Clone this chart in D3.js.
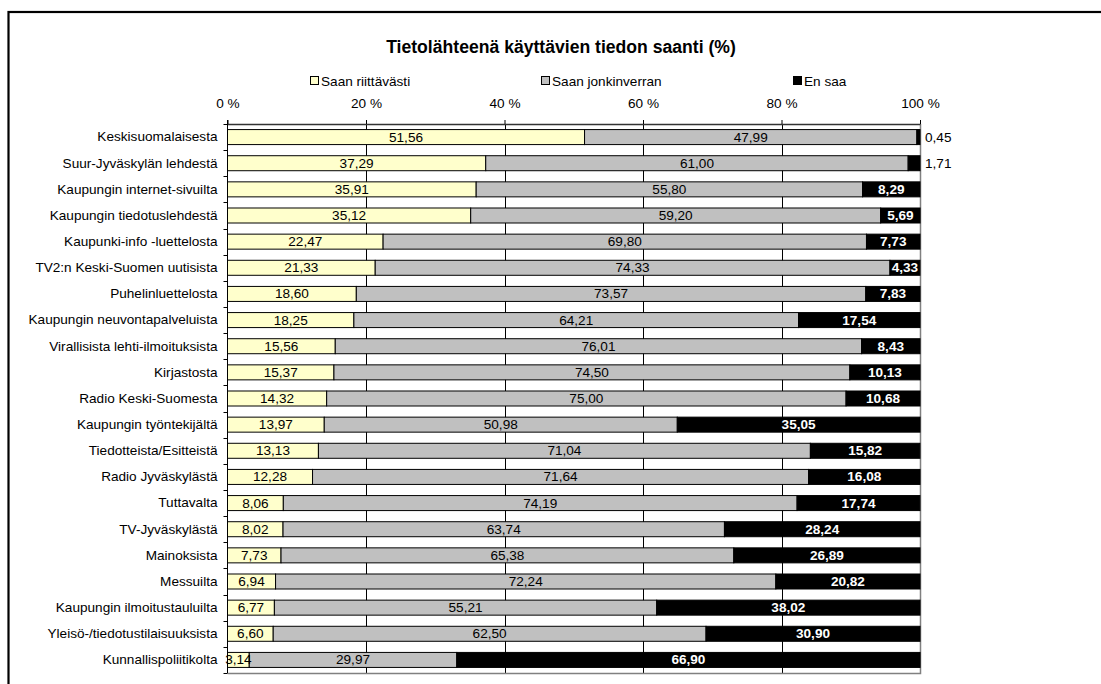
<!DOCTYPE html>
<html>
<head>
<meta charset="utf-8">
<script src="https://cdn.jsdelivr.net/npm/d3@7"></script>
<style>
  body { margin: 0; background: #fff; }
  svg { display: block; font-family: Arial, 'Liberation Sans', sans-serif; }
</style>
</head>
<body>
<svg id="chart"></svg>
<script>
// data
const categories = [
  "Keskisuomalaisesta", "Suur-Jyväskylän lehdestä", "Kaupungin internet-sivuilta",
  "Kaupungin tiedotuslehdestä", "Kaupunki-info -luettelosta", "TV2:n Keski-Suomen uutisista",
  "Puhelinluettelosta", "Kaupungin neuvontapalveluista", "Virallisista lehti-ilmoituksista",
  "Kirjastosta", "Radio Keski-Suomesta", "Kaupungin työntekijältä", "Tiedotteista/Esitteistä",
  "Radio Jyväskylästä", "Tuttavalta", "TV-Jyväskylästä", "Mainoksista", "Messuilta",
  "Kaupungin ilmoitustauluilta", "Yleisö-/tiedotustilaisuuksista", "Kunnallispoliitikolta"
];
const seriesNames = ["Saan riittävästi", "Saan jonkinverran", "En saa"];
const enough = [51.56, 37.29, 35.91, 35.12, 22.47, 21.33, 18.60, 18.25, 15.56, 15.37, 14.32,
  13.97, 13.13, 12.28, 8.06, 8.02, 7.73, 6.94, 6.77, 6.60, 3.14];
const some = [47.99, 61.00, 55.80, 59.20, 69.80, 74.33, 73.57, 64.21, 76.01, 74.50, 75.00,
  50.98, 71.04, 71.64, 74.19, 63.74, 65.38, 72.24, 55.21, 62.50, 29.97];
const none = [0.45, 1.71, 8.29, 5.69, 7.73, 4.33, 7.83, 17.54, 8.43, 10.13, 10.68,
  35.05, 15.82, 16.08, 17.74, 28.24, 26.89, 20.82, 38.02, 30.90, 66.90];
const xTicks = [0, 20, 40, 60, 80, 100];

const width = 1101, height = 684;
const colors = ["#FFFFCC", "#C0C0C0", "#000000"];
const fmt = v => d3.format(".2f")(v).replace(".", ",");
const fs = 13.6;

const svg = d3.select("#chart").attr("width", width).attr("height", height);

// outer frame (runs off the right and bottom edges)
svg.append("rect")
  .attr("x", 8.5).attr("y", 12)
  .attr("width", 1200).attr("height", 800)
  .attr("fill", "none").attr("stroke", "#000").attr("stroke-width", 2.2);

svg.append("text")
  .attr("x", 561).attr("y", 47)
  .attr("text-anchor", "middle").attr("dominant-baseline", "central")
  .attr("font-size", 17.6).attr("font-weight", "bold")
  .text("Tietolähteenä käyttävien tiedon saanti (%)");

// legend
const legendX = [310, 541, 793];
const legend = svg.append("g").selectAll("g").data(seriesNames).join("g")
  .attr("transform", (d, i) => `translate(${legendX[i]},76)`);
legend.append("rect")
  .attr("x", 0.5).attr("y", 0.5).attr("width", 8).attr("height", 8)
  .attr("fill", (d, i) => colors[i]).attr("stroke", "#000");
legend.append("text")
  .attr("x", 11).attr("y", 5)
  .attr("dominant-baseline", "central").attr("font-size", fs)
  .text(d => d);

const plotTop = 124, plotBottom = 673, plotLeft = 227.5, plotRight = 920;

const x = d3.scaleLinear().domain([0, 100]).range([plotLeft, plotRight]);
const y = d3.scaleBand().domain(categories).range([plotTop, plotBottom])
  .paddingInner(0.426).paddingOuter(0.213);

const rows = categories.map((c, i) => {
  const vals = [enough[i], some[i], none[i]];
  let acc = 0;
  return vals.map((v, k) => {
    const seg = {cat: c, k: k, v: v, x0: acc, x1: acc + v};
    acc += v;
    return seg;
  });
});

// gridlines
svg.append("g").selectAll("line").data(xTicks.slice(1, -1)).join("line")
  .attr("x1", d => Math.round(x(d)) + 0.5).attr("x2", d => Math.round(x(d)) + 0.5)
  .attr("y1", plotTop).attr("y2", plotBottom)
  .attr("stroke", "#000").attr("stroke-width", 1);

// plot border right / bottom (grey)
svg.append("path")
  .attr("d", `M${plotRight + 0.5},${plotTop}V${plotBottom + 0.5}H${plotLeft}`)
  .attr("fill", "none").attr("stroke", "#808080").attr("stroke-width", 1.5);

// bars
const bars = svg.append("g").selectAll("g").data(rows).join("g");
bars.selectAll("rect").data(d => d).join("rect")
  .attr("x", d => x(d.x0))
  .attr("y", d => y(d.cat))
  .attr("width", d => x(d.x1) - x(d.x0))
  .attr("height", y.bandwidth())
  .attr("fill", d => colors[d.k])
  .attr("stroke", "#000").attr("stroke-width", 1);

// value labels
const outside = d => d.k === 2 && d.v < 2;
bars.selectAll("text").data(d => d).join("text")
  .attr("x", d => outside(d) ? plotRight + 5 : x((d.x0 + d.x1) / 2))
  .attr("y", d => y(d.cat) + y.bandwidth() / 2)
  .attr("text-anchor", d => outside(d) ? "start" : "middle")
  .attr("dominant-baseline", "central")
  .attr("font-size", fs)
  .attr("font-weight", d => (d.k === 2 && !outside(d)) ? "bold" : "normal")
  .attr("fill", d => (d.k === 2 && !outside(d)) ? "#fff" : "#000")
  .text(d => fmt(d.v));

// top axis
const xAxis = d3.axisTop(x).tickValues(xTicks).tickSize(4).tickSizeOuter(0)
  .tickPadding(12).tickFormat(d => d + " %");
svg.append("g")
  .attr("transform", `translate(0,${plotTop})`)
  .call(xAxis)
  .call(g => g.select(".domain").attr("stroke", "#333").attr("stroke-width", 1.5))
  .call(g => g.selectAll("text").attr("font-size", fs).attr("fill", "#000")
    .attr("font-family", "Arial, 'Liberation Sans', sans-serif"));

// left axis: labels at band centres, ticks at band boundaries
const yAxis = d3.axisLeft(y).tickSize(0).tickPadding(10);
svg.append("g")
  .attr("transform", `translate(${plotLeft},0)`)
  .call(yAxis)
  .call(g => g.select(".domain").remove())
  .call(g => g.selectAll("text").attr("font-size", fs).attr("fill", "#000")
    .attr("font-family", "Arial, 'Liberation Sans', sans-serif"));

const step = y.step();
const boundaries = d3.range(categories.length + 1).map(i => plotTop + i * step);
svg.append("line")
  .attr("x1", plotLeft).attr("x2", plotLeft).attr("y1", plotTop - 4).attr("y2", plotBottom)
  .attr("stroke", "#000");
svg.append("g").selectAll("line").data(boundaries).join("line")
  .attr("x1", plotLeft - 4).attr("x2", plotLeft)
  .attr("y1", d => Math.round(d) + 0.5).attr("y2", d => Math.round(d) + 0.5)
  .attr("stroke", "#000");
</script>
</body>
</html>
